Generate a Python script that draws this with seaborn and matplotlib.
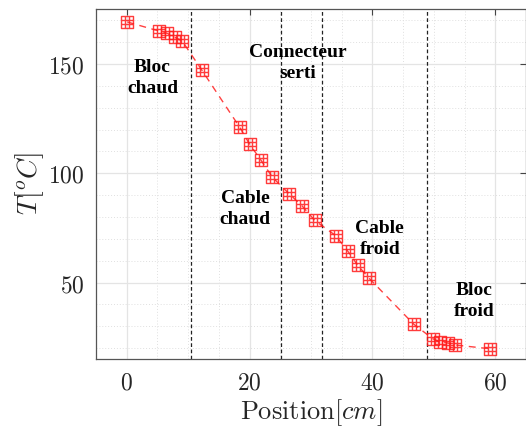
import matplotlib

matplotlib.use("Agg")
import matplotlib.pyplot as plt
import numpy as np
import seaborn as sns
from matplotlib.path import Path
from matplotlib.ticker import FuncFormatter, MultipleLocator

# measured points along the assembly
position_cm = [0.1, 5.2, 6.6, 7.8, 9.0, 12.2, 18.4, 20.0, 21.8, 23.7, 26.4, 28.5,
               30.6, 34.0, 36.0, 37.6, 39.4, 46.7, 49.8, 51.0, 52.3, 53.5, 59.1]
temperature_c = [169.2, 165.1, 164.0, 162.2, 160.6, 147.3, 121.0, 113.3, 106.2, 98.2, 90.7, 85.2,
                 78.4, 71.5, 64.3, 57.9, 52.1, 31.0, 24.3, 22.8, 22.3, 21.4, 19.7]

# zone boundaries and zone labels
boundaries_cm = [10.4, 25.1, 31.8, 48.9]
zone_labels = ["Bloc\nchaud", "Connecteur\nserti", "Cable\nchaud", "Cable\nfroid", "Bloc\nfroid"]
zone_label_x = [4.2, 27.9, 19.3, 41.2, 56.6]
zone_label_y = [143.5, 150.5, 83.5, 70.0, 41.5]

sns.set_style("white")
plt.rcParams["mathtext.fontset"] = "cm"

# square marker with a small grid inside
a, b = 1.0, 1.0 / 3.0
verts = [(-a, -a), (a, -a), (a, a), (-a, a), (-a, -a),
         (-b, -a), (-b, a), (b, -a), (b, a),
         (-a, -b), (a, -b), (-a, b), (a, b)]
codes = [Path.MOVETO, Path.LINETO, Path.LINETO, Path.LINETO, Path.CLOSEPOLY,
         Path.MOVETO, Path.LINETO, Path.MOVETO, Path.LINETO,
         Path.MOVETO, Path.LINETO, Path.MOVETO, Path.LINETO]
grid_square = Path(verts, codes)

fig = plt.figure(figsize=(5.26, 4.29), dpi=100)
ax = fig.add_axes([96 / 526, 70 / 429, 430 / 526, 349.7 / 429])

for xb in boundaries_cm:
    ax.axvline(xb, color="#222222", linestyle=(0, (3, 2)), linewidth=0.9, zorder=2)

sns.lineplot(x=position_cm, y=temperature_c, ax=ax, color="#ff2020", alpha=0.85,
             linestyle=(0, (5, 4)), linewidth=1.0, marker=grid_square,
             markersize=9, markerfacecolor="none", markeredgecolor="#ff1a1a",
             markeredgewidth=1.0, zorder=3)

for label, lx, ly in zip(zone_labels, zone_label_x, zone_label_y):
    ax.text(lx, ly, label, ha="center", va="center", fontsize=14, fontweight="bold",
            family="Liberation Serif", color="black", linespacing=1.3, zorder=4)

ax.set_xlim(-5, 65)
ax.set_ylim(15, 175)
ax.xaxis.set_major_locator(MultipleLocator(20))
ax.xaxis.set_minor_locator(MultipleLocator(5))
ax.yaxis.set_major_locator(MultipleLocator(50))
ax.yaxis.set_minor_locator(MultipleLocator(10))
fmt = FuncFormatter(lambda v, _: f"${v:.0f}$")
ax.xaxis.set_major_formatter(fmt)
ax.yaxis.set_major_formatter(fmt)

ax.grid(which="major", color="#e4e4e4", linewidth=0.9)
ax.grid(which="minor", color="#e0e0e0", linestyle=(0, (1, 2)), linewidth=0.7)
ax.set_axisbelow(True)

ax.tick_params(which="major", direction="in", length=4, width=0.8, color="#444444",
               top=True, right=True, labelsize=17, labelcolor="#262626", pad=8)
ax.tick_params(which="minor", length=0)
for sp in ax.spines.values():
    sp.set_color("#555555")
    sp.set_linewidth(0.9)

ax.set_xlabel(r"$\mathrm{Position}[cm]$", fontsize=19, color="#262626", labelpad=2)
ax.set_ylabel(r"$T[^oC]$", fontsize=20, color="#262626", labelpad=2)

fig.savefig("out.png", dpi=100)
plt.close(fig)
